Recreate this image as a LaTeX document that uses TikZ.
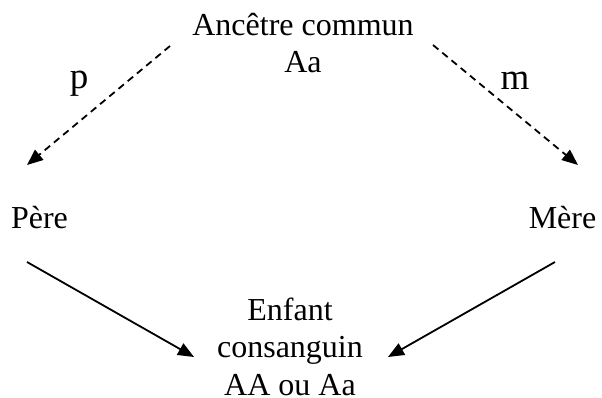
\documentclass[tikz,border=0pt]{standalone}
\usepackage{fontspec}
\setmainfont{Liberation Serif}
\usetikzlibrary{arrows.meta}

\begin{document}
\begin{tikzpicture}[x=1pt,y=-1pt,
  lbl/.style={inner sep=0pt,anchor=base,align=center,font=\fontsize{32}{37.5}\selectfont},
  big/.style={inner sep=0pt,anchor=base,font=\fontsize{37}{44}\selectfont},
  link/.style={line width=1.8pt,-{Triangle[length=16pt,width=13pt]}},
  herit/.style={link,dash pattern=on 7pt off 5pt}]
  \useasboundingbox (0,0) rectangle (602,398);

  % Noeuds
  \node[lbl] (anc) at (303,73) {Ancêtre commun\\Aa};
  \node[lbl] (pere) at (39.5,228) {Père};
  \node[lbl] (mere) at (562.5,228) {Mère};
  \node[lbl] (enf) at (290,395) {Enfant\\consanguin\\AA ou Aa};

  % Probabilités
  \node[big] (p) at (79,89) {p};
  \node[big] (m) at (515,90) {m};

  % Extrémités des flèches
  \coordinate (a1) at (170,46);
  \coordinate (a2) at (27,165);
  \coordinate (b1) at (433,45);
  \coordinate (b2) at (578,165);
  \coordinate (c1) at (27,262);
  \coordinate (c2) at (194,357);
  \coordinate (d1) at (555,262);
  \coordinate (d2) at (388,357);

  % Flèches
  \draw[herit] (a1) -- (a2);
  \draw[herit] (b1) -- (b2);
  \draw[link] (c1) -- (c2);
  \draw[link] (d1) -- (d2);
\end{tikzpicture}
\end{document}
